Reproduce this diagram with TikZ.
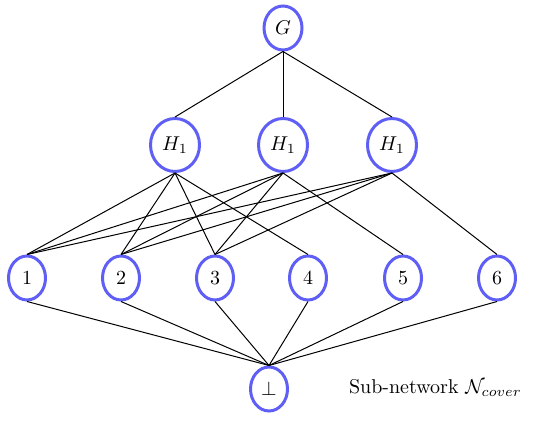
\documentclass[tikz,border=0pt]{standalone}
\usepackage{xcolor}
\usepackage{tikz}
\usetikzlibrary{positioning, shapes.geometric}
\usepackage{amsmath}
\definecolor{vtxB}{RGB}{95,95,245}

\begin{document}
\begin{tikzpicture}[x=0.5pt, y=-0.5pt, vtx/.style={ellipse, draw=vtxB, line width=1.5pt, inner sep=0pt, minimum width=18.5pt, minimum height=22pt}, hvtx/.style={vtx, minimum width=24.5pt, minimum height=26.5pt}, edge/.style={line width=0.5pt}]
\useasboundingbox (0,0) rectangle (550,421);
\node[vtx, minimum width=19pt] (g) at (283,28) {$G$};
\node[hvtx] (h1) at (175,145) {$H_1$}; \node[hvtx] (h2) at (283,145) {$H_1$}; \node[hvtx] (h3) at (392,145) {$H_1$};
\node[vtx] (n1) at (27,278) {1}; \node[vtx] (n2) at (121,278) {2}; \node[vtx] (n3) at (215,278) {3};
\node[vtx] (n4) at (308,278) {4}; \node[vtx] (n5) at (403,278) {5}; \node[vtx] (n6) at (497,278) {6};
\node[vtx] (bot) at (269,389) {$\perp$};
\node[anchor=west] (cap) at (342,388) {Sub-network $\mathcal{N}_{cover}$};
% G to the three copies
\draw[edge] (g.south)--(h1.north); \draw[edge] (g.south)--(h2.north); \draw[edge] (g.south)--(h3.north);
% copies to the leaves
\draw[edge] (h1.south)--(n1.north); \draw[edge] (h1.south)--(n2.north); \draw[edge] (h1.south)--(n3.north); \draw[edge] (h1.south)--(n4.north);
\draw[edge] (h2.south)--(n1.north); \draw[edge] (h2.south)--(n2.north); \draw[edge] (h2.south)--(n3.north); \draw[edge] (h2.south)--(n5.north);
\draw[edge] (h3.south)--(n1.north); \draw[edge] (h3.south)--(n2.north); \draw[edge] (h3.south)--(n3.north); \draw[edge] (h3.south)--(n6.north);
% leaves to bottom
\draw[edge] (n1.south)--(bot.north); \draw[edge] (n2.south)--(bot.north); \draw[edge] (n3.south)--(bot.north);
\draw[edge] (n4.south)--(bot.north); \draw[edge] (n5.south)--(bot.north); \draw[edge] (n6.south)--(bot.north);
\end{tikzpicture}
\end{document}
